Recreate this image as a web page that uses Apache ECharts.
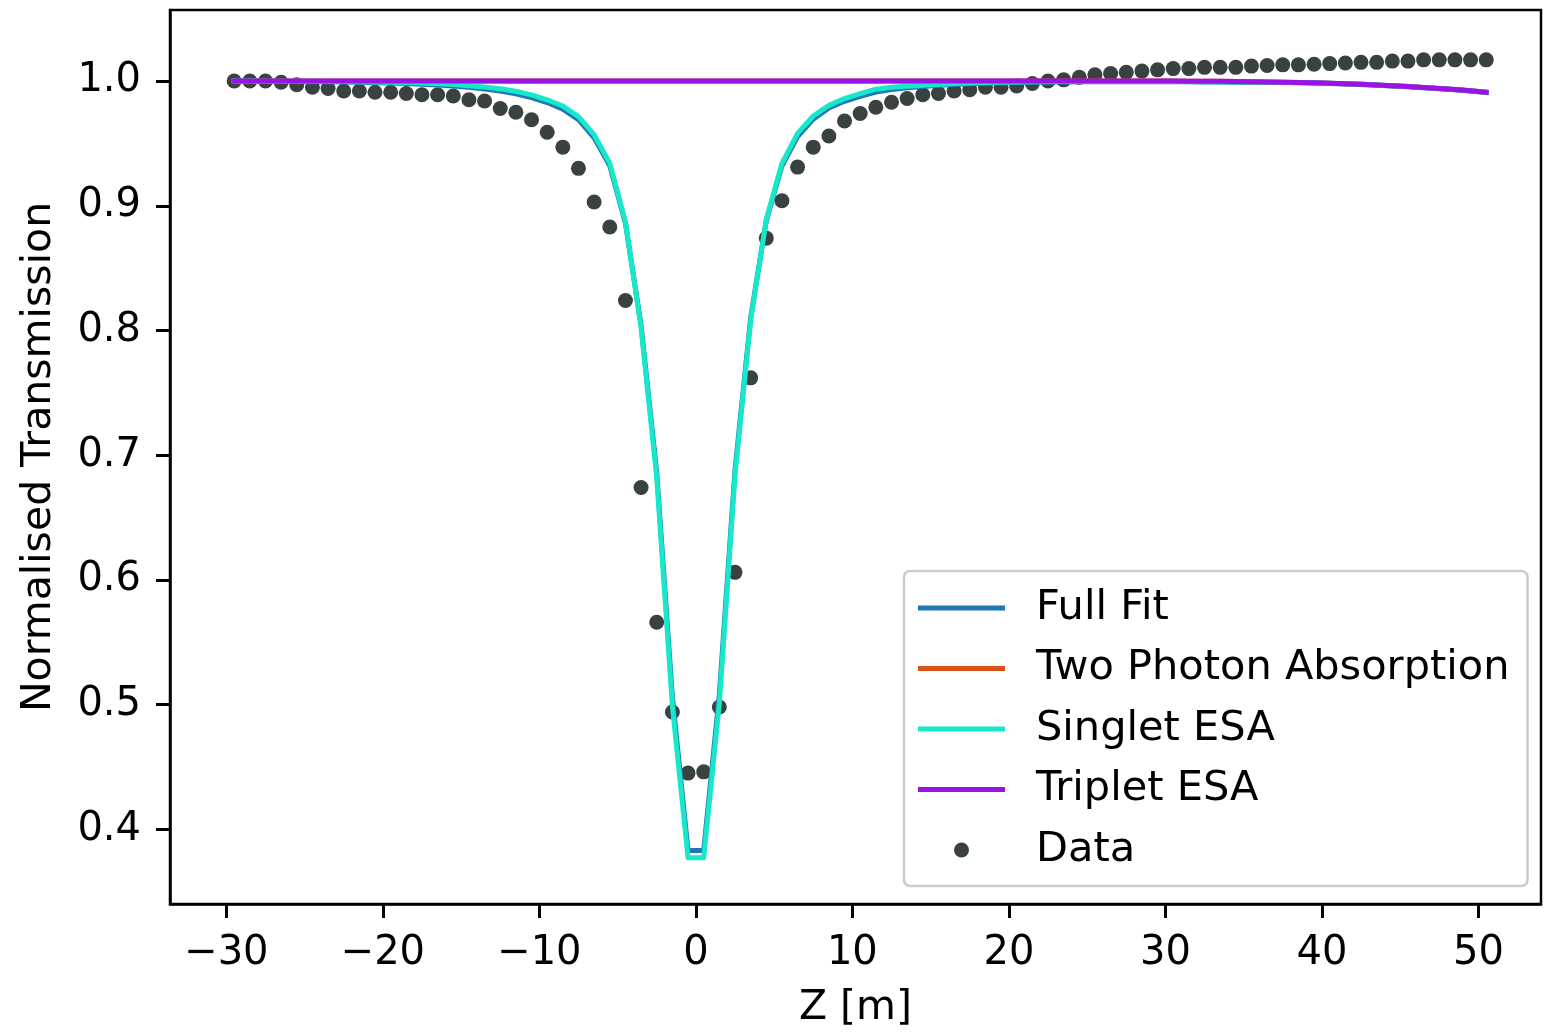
<!DOCTYPE html>
<html>
<head>
<meta charset="utf-8">
<title>Z-scan transmission</title>
<script src="https://cdn.jsdelivr.net/npm/echarts@6/dist/echarts.min.js"></script>
<style>
  html, body { margin: 0; padding: 0; background: #ffffff; }
  #chart { width: 1544px; height: 1034px; }
</style>
</head>
<body>
<div id="chart"></div>
<script>
// Sample positions along the beam axis (m)
const zPositions = [
  -29.5, -28.5, -27.5, -26.5, -25.5, -24.5, -23.5, -22.5, -21.5, -20.5,
  -19.5, -18.5, -17.5, -16.5, -15.5, -14.5, -13.5, -12.5, -11.5, -10.5,
  -9.5, -8.5, -7.5, -6.5, -5.5, -4.5, -3.5, -2.5, -1.5, -0.5,
  0.5, 1.5, 2.5, 3.5, 4.5, 5.5, 6.5, 7.5, 8.5, 9.5,
  10.5, 11.5, 12.5, 13.5, 14.5, 15.5, 16.5, 17.5, 18.5, 19.5,
  20.5, 21.5, 22.5, 23.5, 24.5, 25.5, 26.5, 27.5, 28.5, 29.5,
  30.5, 31.5, 32.5, 33.5, 34.5, 35.5, 36.5, 37.5, 38.5, 39.5,
  40.5, 41.5, 42.5, 43.5, 44.5, 45.5, 46.5, 47.5, 48.5, 49.5, 50.5
];

// Measured normalised transmission
const measured = [
  1.000, 1.000, 1.000, 0.999, 0.997, 0.995, 0.994, 0.992, 0.992, 0.991,
  0.991, 0.990, 0.989, 0.989, 0.988, 0.985, 0.984, 0.978, 0.975, 0.969,
  0.959, 0.947, 0.930, 0.903, 0.883, 0.824, 0.674, 0.566, 0.494, 0.445,
  0.446, 0.498, 0.606, 0.762, 0.874, 0.904, 0.931, 0.947, 0.956, 0.968,
  0.974, 0.979, 0.983, 0.986, 0.989, 0.990, 0.992, 0.993, 0.995, 0.995,
  0.996, 0.998, 1.000, 1.001, 1.003, 1.005, 1.006, 1.007, 1.008, 1.009,
  1.010, 1.010, 1.011, 1.011, 1.011, 1.012, 1.0125, 1.013, 1.013, 1.0135,
  1.014, 1.0145, 1.015, 1.015, 1.016, 1.016, 1.017, 1.017, 1.017, 1.017, 1.017
];

// Model curves evaluated at the same positions
const fullFit = [
  0.9999, 0.9998, 0.9998, 0.9997, 0.9996, 0.9995, 0.9994, 0.9992, 0.9990, 0.9987,
  0.9984, 0.9980, 0.9975, 0.9968, 0.9960, 0.9950, 0.9937, 0.9920, 0.9898, 0.9868,
  0.9828, 0.9775, 0.9690, 0.9545, 0.9320, 0.8860, 0.8040, 0.6860, 0.5060, 0.3830,
  0.3830, 0.5080, 0.6880, 0.8100, 0.8880, 0.9320, 0.9555, 0.9695, 0.9785, 0.9838,
  0.9878, 0.9912, 0.9932, 0.9946, 0.9957, 0.9966, 0.9973, 0.9979, 0.9983, 0.9986,
  0.9989, 0.9991, 0.9992, 0.9993, 0.9994, 0.9995, 0.9995, 0.9995, 0.9995, 0.9995,
  0.9995, 0.9994, 0.9993, 0.9992, 0.9991, 0.9990, 0.9989, 0.9988, 0.9986, 0.9984,
  0.9981, 0.9977, 0.9972, 0.9967, 0.9961, 0.9954, 0.9947, 0.9939, 0.9930, 0.9920, 0.9909
];

const twoPhoton = [
  1.0000, 1.0000, 1.0000, 1.0000, 1.0000, 1.0000, 1.0000, 1.0000, 1.0000, 1.0000,
  1.0000, 1.0000, 1.0000, 1.0000, 1.0000, 1.0000, 1.0000, 1.0000, 1.0000, 1.0000,
  1.0000, 1.0000, 1.0000, 1.0000, 1.0000, 1.0000, 1.0000, 1.0000, 1.0000, 1.0000,
  1.0000, 1.0000, 1.0000, 1.0000, 1.0000, 1.0000, 1.0000, 1.0000, 1.0000, 1.0000,
  1.0000, 1.0000, 1.0000, 1.0000, 1.0000, 1.0000, 1.0000, 1.0000, 1.0000, 1.0000,
  1.0000, 1.0000, 1.0000, 1.0000, 1.0000, 1.0000, 1.0000, 1.0000, 1.0000, 1.0000,
  1.0000, 0.99995, 0.9999, 0.9998, 0.9997, 0.9995, 0.9993, 0.9991, 0.9989, 0.9987,
  0.9983, 0.9979, 0.9974, 0.9969, 0.9963, 0.9956, 0.9949, 0.9941, 0.9932, 0.9922, 0.9911
];

const singletESA = [
  1.0000, 1.0000, 0.9999, 0.9999, 0.9998, 0.9998, 0.9997, 0.9996, 0.9995, 0.9993,
  0.9991, 0.9988, 0.9984, 0.9979, 0.9972, 0.9963, 0.9952, 0.9938, 0.9918, 0.9889,
  0.9850, 0.9800, 0.9715, 0.9570, 0.9340, 0.8870, 0.8020, 0.6820, 0.4990, 0.3770,
  0.3770, 0.5010, 0.6840, 0.8080, 0.8890, 0.9340, 0.9580, 0.9720, 0.9805, 0.9860,
  0.9900, 0.9935, 0.9950, 0.9958, 0.9966, 0.9973, 0.9980, 0.9985, 0.9988, 0.9991,
  0.9993, 0.9994, 0.9995, 0.9996, 0.9996, 0.9997, 0.9997, 0.9997, 0.9997, 0.9997,
  0.9997, 0.9996, 0.9995, 0.9994, 0.9993, 0.9992, 0.9991, 0.9990, 0.9988, 0.9986,
  0.9983, 0.9979, 0.9974, 0.9969, 0.9963, 0.9956, 0.9949, 0.9941, 0.9932, 0.9922, 0.9911
];

const tripletESA = [
  1.0000, 1.0000, 1.0000, 1.0000, 1.0000, 1.0000, 1.0000, 1.0000, 1.0000, 1.0000,
  1.0000, 1.0000, 1.0000, 1.0000, 1.0000, 1.0000, 1.0000, 1.0000, 1.0000, 1.0000,
  1.0000, 1.0000, 1.0000, 1.0000, 1.0000, 1.0000, 1.0000, 1.0000, 1.0000, 1.0000,
  1.0000, 1.0000, 1.0000, 1.0000, 1.0000, 1.0000, 1.0000, 1.0000, 1.0000, 1.0000,
  1.0000, 1.0000, 1.0000, 1.0000, 1.0000, 1.0000, 1.0000, 1.0000, 1.0000, 1.0000,
  1.0000, 1.0000, 1.0000, 1.0000, 1.0000, 1.0000, 1.0000, 1.0000, 1.0000, 1.0000,
  1.0000, 0.99995, 0.9999, 0.9998, 0.9997, 0.9995, 0.9993, 0.9991, 0.9989, 0.9987,
  0.9983, 0.9979, 0.9974, 0.9969, 0.9963, 0.9956, 0.9949, 0.9941, 0.9932, 0.9922, 0.9911
];

// Axis ticks
const xTicks = [-30, -20, -10, 0, 10, 20, 30, 40, 50];
const yTicks = [0.4, 0.5, 0.6, 0.7, 0.8, 0.9, 1.0];

const FONT = 'DejaVu Sans';
const pairs = vals => zPositions.map((z, i) => [z, vals[i]]);
const lineIcon = 'path://M0,0 L87,0 L87,5 L0,5 Z';

function lineSeries(name, values, color, z) {
  return {
    name: name,
    type: 'line',
    data: pairs(values),
    symbol: 'none',
    showSymbol: false,
    z: z,
    color: color,
    lineStyle: { color: color, width: 5, cap: 'square', join: 'round' },
    emphasis: { disabled: true }
  };
}

const chart = echarts.init(document.getElementById('chart'), null, { renderer: 'canvas' });

chart.setOption({
  animation: false,
  backgroundColor: '#ffffff',
  textStyle: { fontFamily: FONT },
  grid: {
    left: 170, top: 10, right: 3, bottom: 128,
    show: true, borderColor: '#000000', borderWidth: 2.5,
    containLabel: false
  },
  xAxis: {
    type: 'value',
    min: -33.6, max: 54,
    name: 'Z [m]',
    nameLocation: 'middle',
    nameGap: 84,
    nameTextStyle: { fontFamily: FONT, fontSize: 41, color: '#000000' },
    axisLine: { show: true, onZero: false, lineStyle: { color: '#000000', width: 2.5 } },
    axisTick: { show: true, inside: false, length: 14, customValues: xTicks,
                lineStyle: { color: '#000000', width: 3 } },
    axisLabel: {
      customValues: xTicks, margin: 30,
      fontFamily: FONT, fontSize: 40, color: '#000000',
      formatter: v => (v < 0 ? '\u2212' + Math.abs(v) : String(v))
    },
    splitLine: { show: false }
  },
  yAxis: {
    type: 'value',
    min: 0.34, max: 1.057,
    name: 'Normalised Transmission',
    nameLocation: 'middle',
    nameGap: 110,
    nameRotate: 90,
    nameTextStyle: { fontFamily: FONT, fontSize: 41, color: '#000000' },
    axisLine: { show: true, onZero: false, lineStyle: { color: '#000000', width: 2.5 } },
    axisTick: { show: true, inside: false, length: 14, customValues: yTicks,
                lineStyle: { color: '#000000', width: 3 } },
    axisLabel: {
      customValues: yTicks, margin: 29,
      fontFamily: FONT, fontSize: 40, color: '#000000',
      formatter: v => v.toFixed(1)
    },
    splitLine: { show: false }
  },
  legend: {
    orient: 'vertical',
    left: 904, top: 571,
    padding: [15, 18, 14, 14],
    itemWidth: 87, itemHeight: 15, itemGap: 16.5,
    backgroundColor: 'rgba(255,255,255,0.8)',
    borderColor: '#cccccc', borderWidth: 2.5, borderRadius: 6,
    selectedMode: false,
    textStyle: { fontFamily: FONT, fontSize: 41.5, color: '#000000', lineHeight: 44,
                 padding: [0, 0, 0, 26] },
    data: [
      { name: 'Full Fit', icon: lineIcon },
      { name: 'Two Photon Absorption', icon: lineIcon },
      { name: 'Singlet ESA', icon: lineIcon },
      { name: 'Triplet ESA', icon: lineIcon },
      { name: 'Data', icon: 'circle' }
    ]
  },
  series: [
    lineSeries('Full Fit', fullFit, '#1f77b4', 3),
    lineSeries('Two Photon Absorption', twoPhoton, '#d95319', 4),
    lineSeries('Singlet ESA', singletESA, '#16e8c9', 5),
    lineSeries('Triplet ESA', tripletESA, '#9a12e6', 6),
    {
      name: 'Data',
      type: 'scatter',
      data: pairs(measured),
      symbol: 'circle',
      symbolSize: 15,
      z: 2,
      itemStyle: { color: '#3a4141', opacity: 1 },
      emphasis: { disabled: true }
    }
  ]
});
</script>
</body>
</html>
